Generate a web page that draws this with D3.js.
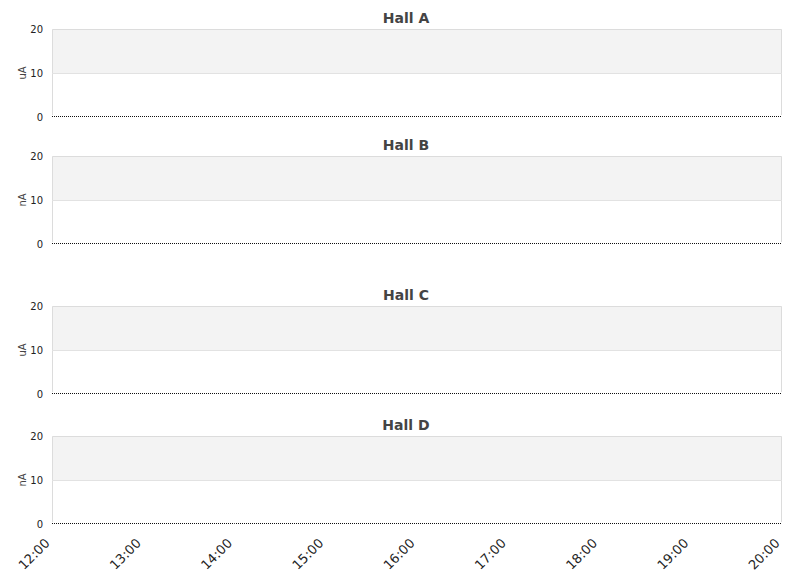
<!DOCTYPE html>
<html>
<head>
<meta charset="utf-8">
<script src="https://cdn.jsdelivr.net/npm/d3@7"></script>
<style>
  body { margin: 0; background: #fff; }
  text { font-family: "DejaVu Sans", sans-serif; }
</style>
</head>
<body>
<svg id="halls" width="811" height="578"></svg>
<script>
// panels and their units
const halls = ["Hall A", "Hall B", "Hall C", "Hall D"];
const units = ["uA", "nA", "uA", "nA"];
const yTicks = [0, 10, 20];
const xTicks = ["12:00", "13:00", "14:00", "15:00", "16:00", "17:00", "18:00", "19:00", "20:00"];
// readings (all zero in the picture)
const sampleTimes = ["12:00", "13:00", "14:00", "15:00", "16:00", "17:00", "18:00", "19:00", "20:00"];
const currentA = [0, 0, 0, 0, 0, 0, 0, 0, 0];
const currentB = [0, 0, 0, 0, 0, 0, 0, 0, 0];
const currentC = [0, 0, 0, 0, 0, 0, 0, 0, 0];
const currentD = [0, 0, 0, 0, 0, 0, 0, 0, 0];
const series = [currentA, currentB, currentC, currentD];

const svg = d3.select("svg#halls");
const parse = d3.timeParse("%H:%M");
const panelTops = [29, 156, 306, 436];
const panelHeight = 88;
const left = 52, right = 782;

const x = d3.scaleTime()
  .domain([parse(xTicks[0]), parse(xTicks[xTicks.length - 1])])
  .range([left, right]);

halls.forEach((hall, i) => {
  const top = panelTops[i];
  const y = d3.scaleLinear().domain([0, 20]).range([top + panelHeight, top]);
  const g = svg.append("g");

  // alternating bands
  g.append("rect")
    .attr("x", left).attr("y", y(20))
    .attr("width", right - left).attr("height", y(10) - y(20))
    .attr("fill", "#f3f3f3");

  // frame
  g.append("path")
    .attr("d", `M${left + 0.5},${y(0) - 2}V${y(20) + 0.5}H${right - 0.5}V${y(0) - 2}`)
    .attr("fill", "none")
    .attr("stroke", "#dcdcdc");

  // gridline at 10
  g.append("line")
    .attr("x1", left).attr("x2", right)
    .attr("y1", Math.round(y(10)) + 0.5).attr("y2", Math.round(y(10)) + 0.5)
    .attr("stroke", "#e2e2e2");

  // y axis labels
  const yAxis = d3.axisLeft(y).tickValues(yTicks).tickSize(0).tickPadding(9);
  g.append("g")
    .attr("transform", `translate(${left},0)`)
    .call(yAxis)
    .call(a => a.select(".domain").remove())
    .selectAll("text")
    .attr("font-size", "10px")
    .attr("fill", "#222");

  g.append("text")
    .text(units[i])
    .attr("transform", `rotate(-90,26,${top + panelHeight / 2})`)
    .attr("x", 26).attr("y", top + panelHeight / 2)
    .attr("text-anchor", "middle")
    .attr("font-size", "10px")
    .attr("fill", "#444");

  g.append("text")
    .text(hall)
    .attr("x", 406)
    .attr("y", top - 6)
    .attr("text-anchor", "middle")
    .attr("font-size", "14px")
    .attr("font-weight", "bold")
    .attr("fill", "#444");

  // data line
  const line = d3.line()
    .x((d, j) => x(parse(sampleTimes[j])))
    .y(d => Math.round(y(d)) - 0.5);
  g.append("path")
    .datum(series[i])
    .attr("d", line)
    .attr("fill", "none")
    .attr("stroke", "#111")
    .attr("stroke-width", 1)
    .attr("stroke-dasharray", "1,1");
});

// bottom time axis
const xAxis = d3.axisBottom(x)
  .tickValues(xTicks.map(parse))
  .tickFormat(d3.timeFormat("%H:%M"))
  .tickSize(0)
  .tickPadding(0);
svg.append("g")
  .attr("transform", `translate(0,${panelTops[3] + panelHeight})`)
  .call(xAxis)
  .call(a => a.select(".domain").remove())
  .selectAll("text")
  .attr("font-size", "13px")
  .attr("fill", "#222")
  .attr("text-anchor", "end")
  .attr("dy", null)
  .attr("y", 0)
  .attr("transform", "translate(-2,20) rotate(-45)");
</script>
</body>
</html>
